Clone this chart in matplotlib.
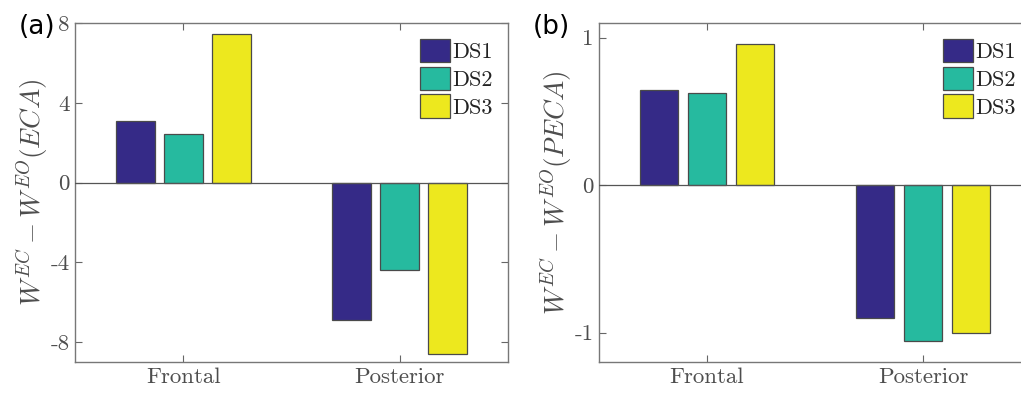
import matplotlib
matplotlib.use("Agg")
import matplotlib.pyplot as plt
import numpy as np

categories = ["Frontal", "Posterior"]
series_names = ["DS1", "DS2", "DS3"]
eca_values = {"DS1": [3.1, -6.9], "DS2": [2.45, -4.4], "DS3": [7.45, -8.6]}
peca_values = {"DS1": [0.644, -0.90], "DS2": [0.626, -1.055], "DS3": [0.956, -1.003]}
eca_ticks = [-8, -4, 0, 4, 8]
peca_ticks = [-1, 0, 1]

colors = ["#352a87", "#26ba9f", "#ede81e"]
edge = "#4a4a4a"
gray = "#4d4d4d"

plt.rcParams["mathtext.fontset"] = "cm"
plt.rcParams["axes.unicode_minus"] = False
serif = "cmr10"

fig = plt.figure(figsize=(10.21, 3.99), dpi=100)
W, H = 1021, 399
ax1 = fig.add_axes([75 / W, 1 - 362 / H, (508 - 75) / W, (362 - 23) / H])
ax2 = fig.add_axes([599 / W, 1 - 362 / H, (1031 - 599) / W, (362 - 23) / H])

def draw(ax, vals, ylim, ticks, ylabel, tag, tagx):
    x = np.arange(1, len(categories) + 1)
    off = 0.222
    width = 0.18
    for i, name in enumerate(series_names):
        ax.bar(x + (i - 1) * off, vals[name], width, color=colors[i],
               edgecolor=edge, linewidth=0.9, label=name, zorder=2)
    ax.axhline(0, color="#555555", lw=0.9, zorder=3)
    ax.set_xlim(0.5, 2.5)
    ax.set_ylim(*ylim)
    ax.set_xticks(x)
    ax.set_xticklabels(categories, fontfamily=serif, fontsize=16.5, color=gray)
    ax.set_yticks(ticks)
    ax.set_yticklabels([str(t) for t in ticks], fontfamily=serif, fontsize=16.5, color=gray)
    ax.tick_params(direction="in", length=5, color="#666666", width=0.8,
                   top=True, right=True, pad=4)
    for s in ax.spines.values():
        s.set_color("#777777")
        s.set_linewidth(1.0)
    ax.set_ylabel(ylabel, fontsize=19.5, color=gray, labelpad=0)
    ax.legend(loc="upper right", frameon=False, prop={"family": serif, "size": 16},
              handlelength=1.35, handleheight=1.25, handletextpad=0.1,
              labelspacing=0.2, borderaxespad=0.3, labelcolor="#222222")
    fig.text(tagx, 1 - 27 / H, tag, fontsize=19, family="DejaVu Sans", va="center", ha="left")

draw(ax1, eca_values, (-9, 8), eca_ticks, r"$W^{EC}-W^{EO}(ECA)$", "(a)", 19 / W)
draw(ax2, peca_values, (-1.2, 1.1), peca_ticks, r"$W^{EC}-W^{EO}(PECA)$", "(b)", 533 / W)
ax2.legend_.set_bbox_to_anchor((1.0, 1.0), transform=ax2.transAxes)

fig.savefig("out.png", dpi=100)
